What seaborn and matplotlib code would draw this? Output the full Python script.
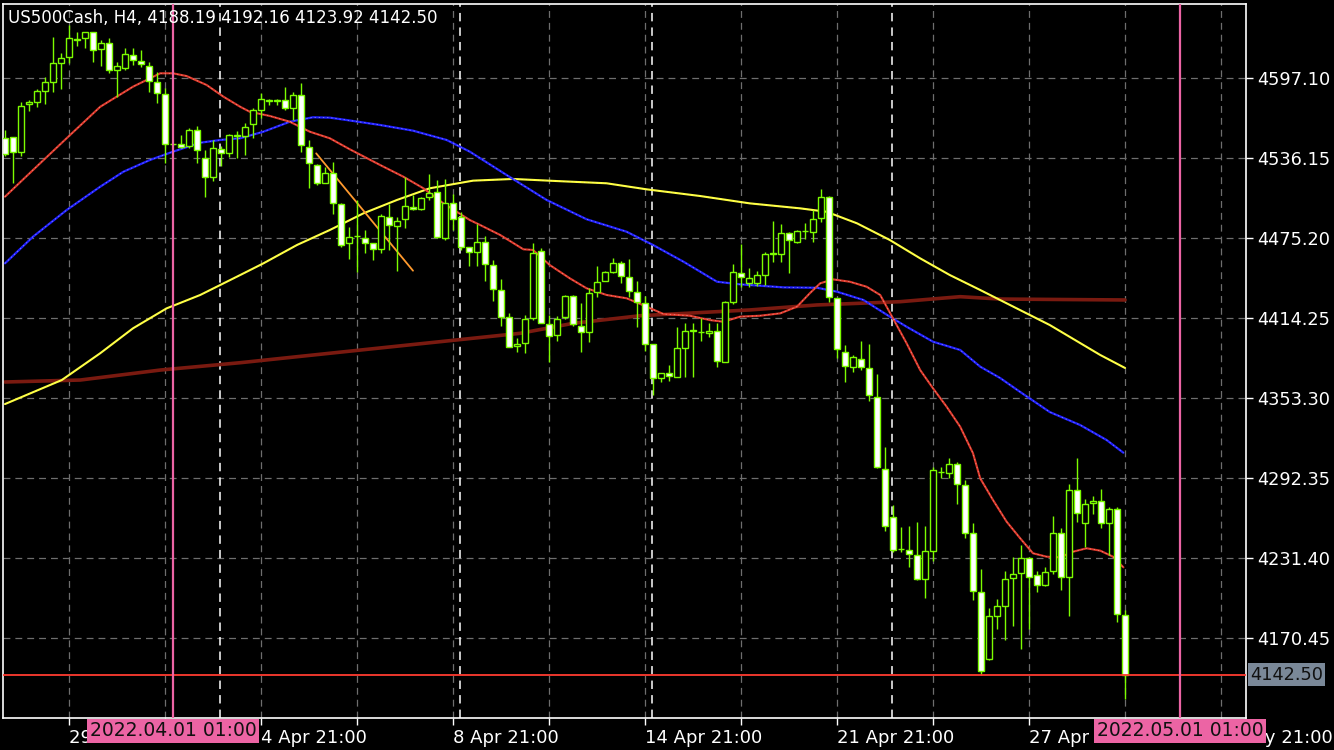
import matplotlib
matplotlib.use("Agg")
import matplotlib.pyplot as plt
import matplotlib.transforms as mtrans
import numpy as np
import pandas as pd
import seaborn as sns

# US500Cash H4 candles (bar 0 = 28 Mar 13:00)
opens = [4551.4, 4551.9, 4541.0, 4577.1, 4579.0, 4587.4, 4593.8, 4608.8, 4612.9, 4626.6,
         4627.3, 4631.8, 4619.0, 4624.1, 4603.2, 4604.5, 4615.0, 4609.8, 4606.6, 4593.7,
         4584.8, 4546.7, 4546.6, 4545.5, 4557.5, 4536.2, 4521.4, 4542.8, 4540.2, 4553.3,
         4552.9, 4561.8, 4572.7, 4579.6, 4579.6, 4580.3, 4574.0, 4584.1, 4544.8, 4530.8,
         4517.3, 4524.5, 4501.1, 4471.2, 4476.7, 4475.0, 4471.2, 4466.6, 4491.4, 4484.6,
         4489.5, 4499.0, 4497.1, 4506.2, 4510.5, 4475.0, 4502.1, 4491.4, 4468.1, 4464.3,
         4471.9, 4454.4, 4435.4, 4414.8, 4393.2, 4395.0, 4414.0, 4465.3, 4409.7, 4401.1,
         4414.8, 4431.0, 4408.2, 4403.8, 4434.3, 4442.7, 4449.1, 4455.9, 4445.7, 4434.3,
         4425.5, 4394.2, 4368.3, 4372.1, 4369.5, 4391.2, 4404.1, 4403.4, 4403.1, 4404.1,
         4381.0, 4426.7, 4448.3, 4440.7, 4440.7, 4447.0, 4463.5, 4462.8, 4478.8, 4472.4,
         4480.5, 4480.0, 4490.2, 4506.2, 4429.3, 4388.6, 4377.2, 4383.4, 4376.4, 4354.3,
         4299.0, 4262.9, 4238.0, 4237.5, 4233.7, 4215.2, 4236.7, 4297.2, 4296.4, 4302.8,
         4287.0, 4250.2, 4205.3, 4154.2, 4187.2, 4195.1, 4215.9, 4220.2, 4231.2, 4218.5,
         4210.8, 4221.7, 4250.2, 4216.7, 4283.2, 4258.0, 4273.3, 4274.8, 4257.9, 4268.7,
         4188.19]
highs = [4557.5, 4552.1, 4578.8, 4580.6, 4588.7, 4598.2, 4628.3, 4615.9, 4637.5, 4632.4,
         4632.4, 4631.8, 4626.0, 4627.3, 4609.1, 4619.7, 4619.7, 4618.4, 4609.5, 4601.7,
         4589.3, 4547.2, 4553.7, 4559.4, 4560.5, 4542.2, 4549.9, 4545.3, 4554.4, 4557.1,
         4562.6, 4574.0, 4585.4, 4580.9, 4580.9, 4590.5, 4586.7, 4593.1, 4549.9, 4531.6,
         4529.5, 4533.3, 4501.6, 4483.8, 4504.2, 4481.3, 4471.4, 4493.5, 4501.1, 4491.4,
         4521.4, 4508.0, 4506.7, 4523.7, 4519.4, 4520.2, 4508.7, 4495.2, 4468.3, 4485.9,
         4477.0, 4458.4, 4443.7, 4417.8, 4398.8, 4416.5, 4471.2, 4467.4, 4416.5, 4416.0,
         4431.8, 4431.8, 4425.5, 4436.9, 4453.9, 4450.3, 4460.2, 4457.9, 4459.2, 4442.4,
         4431.0, 4394.4, 4372.6, 4378.4, 4407.6, 4410.2, 4410.7, 4414.0, 4410.7, 4410.7,
         4427.2, 4455.4, 4470.6, 4452.1, 4450.1, 4464.8, 4488.2, 4485.9, 4479.5, 4481.3,
         4486.4, 4496.5, 4512.5, 4507.4, 4429.7, 4393.7, 4386.1, 4396.4, 4394.4, 4371.4,
         4315.8, 4271.8, 4255.3, 4255.8, 4259.1, 4255.8, 4301.0, 4300.5, 4307.4, 4304.8,
         4290.8, 4258.1, 4223.0, 4193.1, 4200.2, 4221.5, 4232.4, 4241.3, 4231.9, 4221.5,
         4224.8, 4263.4, 4254.0, 4287.8, 4307.4, 4276.1, 4278.6, 4283.8, 4270.5, 4270.5,
         4192.16]
lows = [4537.7, 4517.5, 4537.7, 4572.3, 4575.2, 4577.3, 4586.7, 4588.7, 4608.3, 4621.5,
        4619.7, 4609.5, 4606.6, 4601.3, 4582.6, 4603.2, 4607.0, 4605.7, 4586.7, 4578.3,
        4532.1, 4546.1, 4543.5, 4543.5, 4532.0, 4506.7, 4519.0, 4530.1, 4536.7, 4535.9,
        4538.4, 4551.2, 4566.4, 4576.5, 4576.5, 4572.7, 4565.1, 4541.0, 4513.1, 4515.6,
        4517.1, 4493.5, 4468.6, 4459.2, 4449.5, 4463.5, 4458.4, 4464.0, 4466.1, 4450.3,
        4483.1, 4496.9, 4496.5, 4504.2, 4475.0, 4473.7, 4481.3, 4466.1, 4454.1, 4453.9,
        4442.7, 4427.4, 4408.4, 4391.9, 4388.1, 4387.4, 4412.7, 4410.2, 4380.5, 4397.0,
        4413.3, 4408.2, 4388.1, 4395.7, 4430.5, 4442.4, 4448.9, 4440.7, 4430.5, 4407.6,
        4389.3, 4355.6, 4365.7, 4366.5, 4369.1, 4369.5, 4369.5, 4397.0, 4400.0, 4376.7,
        4380.7, 4424.9, 4438.1, 4437.6, 4438.9, 4439.4, 4457.1, 4457.1, 4448.3, 4471.6,
        4474.4, 4472.4, 4487.6, 4426.7, 4383.6, 4365.7, 4373.3, 4374.6, 4351.4, 4300.0,
        4252.2, 4236.2, 4236.2, 4224.3, 4214.7, 4200.7, 4229.1, 4292.1, 4292.1, 4272.3,
        4246.4, 4199.4, 4142.3, 4153.7, 4177.3, 4168.9, 4179.8, 4162.1, 4177.3, 4205.7,
        4210.1, 4219.2, 4207.0, 4187.5, 4259.1, 4239.6, 4264.9, 4254.5, 4233.7, 4182.9,
        4123.92]
closes = [4539.2, 4541.1, 4576.1, 4579.0, 4587.2, 4593.8, 4608.3, 4612.1, 4627.3, 4626.4,
          4631.8, 4618.4, 4623.5, 4603.0, 4606.6, 4615.4, 4610.8, 4607.5, 4594.8, 4585.4,
          4546.7, 4546.6, 4544.3, 4557.5, 4542.2, 4521.4, 4543.5, 4539.7, 4553.7, 4553.4,
          4560.0, 4572.7, 4581.1, 4580.7, 4580.7, 4574.0, 4584.1, 4546.1, 4532.1, 4517.3,
          4524.5, 4501.6, 4469.9, 4475.7, 4476.6, 4471.6, 4466.6, 4492.0, 4484.9, 4488.4,
          4499.8, 4497.1, 4505.4, 4509.7, 4475.7, 4502.1, 4489.5, 4468.6, 4464.3, 4471.9,
          4455.2, 4436.1, 4414.8, 4392.4, 4394.8, 4413.3, 4463.5, 4410.7, 4400.5, 4413.3,
          4431.0, 4409.7, 4403.8, 4433.1, 4441.9, 4449.1, 4455.9, 4446.5, 4435.1, 4426.7,
          4394.2, 4368.3, 4372.1, 4370.3, 4391.2, 4404.1, 4405.1, 4403.3, 4404.4, 4381.7,
          4426.2, 4449.1, 4445.7, 4444.5, 4447.0, 4462.8, 4463.4, 4478.8, 4473.7, 4480.5,
          4480.4, 4489.5, 4506.2, 4430.5, 4390.4, 4377.5, 4384.3, 4377.3, 4355.6, 4300.5,
          4256.0, 4237.5, 4237.9, 4234.2, 4215.2, 4236.7, 4298.5, 4297.1, 4302.8, 4287.6,
          4250.8, 4206.5, 4145.6, 4187.2, 4194.8, 4215.2, 4219.0, 4231.2, 4217.2, 4210.8,
          4220.5, 4250.2, 4216.7, 4283.2, 4265.5, 4272.3, 4274.8, 4257.9, 4268.7, 4188.7,
          4142.50]

# moving averages (bar position, price) sampled along each line
red_x = [0, 3.5, 7.7, 11.9, 16.0, 19.4, 21.0, 22.7, 25.2, 27.3, 29.4, 30.6, 33.1, 35.6, 38.1,
         40.6, 43.1, 46.9, 49.8, 52.3, 54.8, 58.1, 59.4, 61.9, 64.8, 66.0, 68.1, 70.6, 72.7,
         75.2, 77.7, 80.2, 82.3, 85.6, 88.1, 89.8, 91.9, 94.4, 96.9, 99.0, 100.6, 101.9, 103.5,
         105.6, 107.7, 109.4, 111.0, 112.7, 114.4, 116.0, 117.7, 119.4, 121.0, 121.9, 123.5,
         125.2, 126.9, 128.5, 130.2, 131.9, 133.5, 135.2, 136.9, 138.5, 139.8]
red_y = [4506.7, 4527.0, 4551.2, 4575.2, 4590.5, 4600.7, 4600.7, 4598.6, 4591.8, 4582.9, 4575.2,
         4571.4, 4568.2, 4563.8, 4556.2, 4551.2, 4542.8, 4530.8, 4521.9, 4513.1, 4501.6, 4488.9,
         4485.1, 4477.5, 4466.6, 4466.1, 4454.6, 4444.5, 4436.9, 4431.8, 4429.3, 4422.9, 4417.3,
         4416.0, 4412.7, 4411.4, 4415.3, 4416.0, 4417.8, 4422.9, 4433.1, 4440.7, 4443.7, 4441.9,
         4438.1, 4431.8, 4414.0, 4395.0, 4374.6, 4360.7, 4346.7, 4331.4, 4311.2, 4292.1, 4275.6,
         4259.1, 4246.4, 4235.0, 4232.4, 4231.9, 4236.2, 4238.8, 4237.0, 4232.4, 4224.3]
blue_x = [0, 3.5, 7.7, 11.9, 14.8, 18.1, 21.0, 24.4, 26.9, 29.4, 32.3, 35.6, 38.5, 40.6, 42.7,
          46.9, 51.0, 55.2, 58.1, 62.7, 67.7, 72.7, 77.7, 81.0, 84.8, 89.0, 91.9, 97.3, 101.5,
          104.0, 107.3, 110.6, 112.7, 116.0, 119.4, 121.9, 124.4, 126.9, 130.6, 134.4, 137.7, 139.8]
blue_y = [4455.9, 4476.2, 4496.5, 4514.3, 4525.7, 4534.6, 4541.0, 4547.8, 4549.9, 4551.2, 4556.2,
          4563.8, 4567.2, 4566.9, 4565.1, 4561.3, 4557.0, 4549.9, 4541.0, 4523.2, 4504.2, 4489.5,
          4480.0, 4469.9, 4457.2, 4441.9, 4439.9, 4437.6, 4437.3, 4434.3, 4428.0, 4415.3, 4407.6,
          4396.2, 4389.9, 4377.2, 4368.5, 4357.9, 4342.6, 4332.7, 4321.3, 4311.6]
yellow_x = [0, 7.1, 11.9, 16.0, 20.2, 24.4, 29.4, 32.3, 36.5, 40.6, 44.8, 49.0, 53.1, 58.5, 63.5,
            69.0, 75.2, 80.2, 86.9, 93.1, 99.4, 102.7, 106.5, 110.6, 114.4, 118.1, 121.9, 130.6,
            136.9, 140.0]
yellow_y = [4348.7, 4367.0, 4387.4, 4406.4, 4421.6, 4431.8, 4447.0, 4455.9, 4469.9, 4481.3, 4494.0,
            4504.2, 4513.1, 4518.9, 4520.2, 4518.6, 4516.9, 4512.3, 4507.2, 4501.6, 4497.8, 4495.2,
            4486.4, 4473.7, 4459.7, 4447.0, 4435.6, 4408.9, 4386.1, 4376.2]
dred_x = [0, 9.4, 19.4, 29.4, 40.6, 53.1, 64.4, 71.0, 79.4, 93.1, 101.5, 111.9, 119.4, 124.4, 140.0]
dred_y = [4365.5, 4367.0, 4374.6, 4380.2, 4387.4, 4395.4, 4402.6, 4410.2, 4416.0, 4420.4, 4424.2,
          4426.7, 4430.5, 4428.7, 4428.0]

# trend line drawn by hand on the chart
trend_x = [38.9, 51.0]
trend_y = [4539.7, 4450.3]

price_ticks = [4597.10, 4536.15, 4475.20, 4414.25, 4353.30, 4292.35, 4231.40, 4170.45]
date_ticks = [8, 20, 32, 44, 56, 68, 80, 92, 104, 116, 128, 140, 152]
date_labels = ['29 Mar 21:00', '', '4 Apr 21:00', '', '8 Apr 21:00', '', '14 Apr 21:00', '',
               '21 Apr 21:00', '', '27 Apr 21:00', '', '3 May 21:00']
week_starts = [27, 57, 81, 111]
vlines_bars = [21, 146.9]
vlines_text = ['2022.04.01 01:00', '2022.05.01 01:00']
last_price = 4142.50
title = 'US500Cash, H4, 4188.19 4192.16 4123.92 4142.50'

GREEN = '#7cfc00'
PINK = '#ec64a4'

sns.set_theme(style='dark', rc={'axes.facecolor': 'black', 'figure.facecolor': 'black',
                                'axes.edgecolor': 'white', 'text.color': 'white',
                                'xtick.color': 'white', 'ytick.color': 'white'})
plt.rcParams['font.family'] = ['DejaVu Sans']

fig = plt.figure(figsize=(13.34, 7.5), dpi=100)
ax = fig.add_axes([3 / 1334, 32 / 750, 1243 / 1334, 714 / 750])
ax.set_facecolor('black')

df = pd.DataFrame({'open': opens, 'high': highs, 'low': lows, 'close': closes})
df['bar'] = np.arange(len(df))
bull = df['close'] >= df['open']

# grid
grid_dash = (0, (5.5, 4))
for p in price_ticks:
    ax.axhline(p, color='#6e6e6e', lw=0.9, ls=grid_dash, zorder=0)
for b in date_ticks:
    ax.axvline(b, color='#6e6e6e', lw=0.9, ls=grid_dash, zorder=0)
for b in week_starts:
    ax.axvline(b - 0.1, color='white', lw=1.1, ls=(0, (5.5, 4)), zorder=0.5)

# moving averages, with the light speckle MT4 leaves along them
ma_lines = [(dred_x, dred_y, '#7a1a10', 2.6, None),
            (yellow_x, yellow_y, '#ffff3a', 1.5, '#f4f4c0'),
            (blue_x, blue_y, '#1f1fff', 1.6, '#c8c8f0'),
            (red_x, red_y, '#e0382a', 1.5, '#e8c0b8')]
for xs, ys, col, w, hi in ma_lines:
    sns.lineplot(x=xs, y=ys, ax=ax, color=col, lw=w, sort=False, zorder=1)
    if hi:
        ax.plot(xs, ys, color=hi, lw=0.5, ls=(0, (2, 4)), alpha=0.7, zorder=1.1)
ax.plot(trend_x, trend_y, color='#ff9a2e', lw=1.3, zorder=1.5)

# candles
ax.vlines(df['bar'], df['low'], df['high'], color=GREEN, lw=1.0, zorder=2)
ax.bar(df['bar'], (df['close'] - df['open']).abs(), bottom=df[['open', 'close']].min(axis=1),
       width=0.66, color=np.where(bull, 'black', 'white'), edgecolor=GREEN, linewidth=1.0, zorder=3)

# markers
ax.axhline(last_price, color='#ff3b30', lw=1.3, zorder=4)
for b in vlines_bars:
    ax.axvline(b, color=PINK, lw=1.6, zorder=4)

ax.set_xlim(-0.25, 155.125)
ax.set_ylim(4109.5, 4653.5)

ax.yaxis.tick_right()
ax.set_yticks(price_ticks)
ax.set_yticklabels([f'{p:.2f}' for p in price_ticks])
ax.set_xticks(date_ticks)
ax.set_xticklabels(date_labels, ha='left')
ax.tick_params(axis='y', length=5, width=1, pad=3, labelsize=12.8, colors='white', right=True, left=False)
ax.tick_params(axis='x', length=5, width=1, pad=3, labelsize=13, colors='white', bottom=True)
ax.grid(False)
for s in ax.spines.values():
    s.set_color('white')
    s.set_linewidth(1.2)
ax.set_xlabel('')
ax.set_ylabel('')

# pink time labels on the time scale
tb = mtrans.blended_transform_factory(ax.transData, fig.transFigure)
for b, t in zip(vlines_bars, vlines_text):
    ax.text(b, 1 - 731 / 750, t, transform=tb, ha='center', va='center', fontsize=13.5,
            color='#111111', zorder=10, clip_on=False,
            bbox=dict(boxstyle='square,pad=0.14', fc=PINK, ec='none'))

# last price label
pb = mtrans.blended_transform_factory(fig.transFigure, ax.transData)
ax.text(1250 / 1334, last_price, f'{last_price:.2f}', transform=pb, ha='left', va='center',
        fontsize=12.8, color='#111111', zorder=10, clip_on=False,
        bbox=dict(boxstyle='square,pad=0.14', fc='#7a8898', ec='none'))

fig.text(8 / 1334, 1 - 18 / 750, title, fontsize=12, color='white', va='center')

fig.savefig('out.png', dpi=100, facecolor='black')
